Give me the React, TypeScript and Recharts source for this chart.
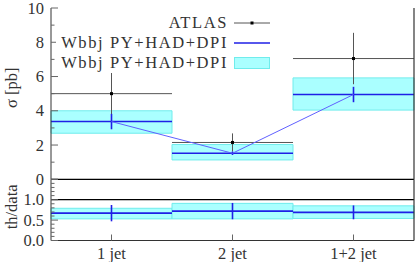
import React from "react";
import {
  ComposedChart,
  XAxis,
  YAxis,
  Line,
  Scatter,
  ErrorBar,
  ReferenceLine,
  ReferenceArea,
  Legend,
} from "recharts";

// ---------- data ----------
const categories = ["1 jet", "2 jet", "1+2 jet"];
const atlasValues = [5.0, 2.15, 7.05];
const atlasErrors = [1.3, 0.53, 1.5];
const theoryValues = [3.37, 1.52, 4.95];
const theoryErrors = [0.45, 0.1, 0.45];
const bandLow = [2.69, 1.13, 4.04];
const bandHigh = [4.0, 2.03, 5.92];
const ratioValues = [0.67, 0.72, 0.69];
const ratioErrors = [0.2, 0.2, 0.17];
const ratioBandLow = [0.53, 0.53, 0.54];
const ratioBandHigh = [0.79, 0.91, 0.85];
const sigmaMajorTicks = [0, 2, 4, 6, 8, 10];
const sigmaMinorTicks = [1, 3, 5, 7, 9];
const ratioMajorTicks = [0, 0.5, 1.0, 1.5];
const ratioMinorTicks = [0.1, 0.2, 0.3, 0.4, 0.6, 0.7, 0.8, 0.9, 1.1, 1.2, 1.3, 1.4];
const ratioTickLabels = ["0.0", "0.5", "1.0", ""];
const legendLabels = ["ATLAS", "Wbbj PY+HAD+DPI", "Wbbj PY+HAD+DPI"];

// ---------- derived tables ----------
const centers = categories.map((_, i) => i + 0.5);
const topRows = categories.map((c, i) => ({
  x: i + 0.5,
  name: c,
  atlas: atlasValues[i],
  atlasErr: atlasErrors[i],
  theory: theoryValues[i],
  theoryErr: theoryErrors[i],
}));
const bottomRows = categories.map((c, i) => ({
  x: i + 0.5,
  name: c,
  ratio: ratioValues[i],
  ratioErr: ratioErrors[i],
}));
const sigmaTicks = [...sigmaMajorTicks, ...sigmaMinorTicks].sort((a, b) => a - b);
const ratioTicks = [...ratioMajorTicks, ...ratioMinorTicks].sort((a, b) => a - b);

// ---------- styles ----------
const FONT = "Liberation Serif";
const FS = 16.5;
const TEXT = "#333";
const TICK = "#666";
const FRAME = "#333";
const BLUE = "#1f1fe6";
const THIN_BLUE = "#6060ff";
const GRAY = "#555";
const BAND_FILL = "#aaffff";
const BAND_EDGE = "#70ecec";

const isIn = (arr: number[], v: number) => arr.some((m) => Math.abs(m - v) < 1e-6);

const makeLeftTick = (majors: number[], fmt: (v: number) => string) => (props: any) => {
  const { x, y, payload } = props;
  const v = payload.value;
  const major = isIn(majors, v);
  return (
    <g>
      <line x1={x} x2={x + (major ? 7 : 3.5)} y1={y} y2={y} stroke={TICK} strokeWidth={1} />
      {major && (
        <text x={x - 7} y={y} textAnchor="end" dominantBaseline="central" style={{ fontFamily: FONT }} fontSize={FS} fill={TEXT}>
          {fmt(v)}
        </text>
      )}
    </g>
  );
};

const makeRightTick = (majors: number[]) => (props: any) => {
  const { x, y, payload } = props;
  const major = isIn(majors, payload.value);
  return <line x1={x - (major ? 7 : 3.5)} x2={x} y1={y} y2={y} stroke={TICK} strokeWidth={1} />;
};

const TopDownTick = (props: any) => {
  const { x, y } = props;
  return <line x1={x} x2={x} y1={y} y2={y + 5} stroke={TICK} strokeWidth={1} />;
};

const BottomLabelTick = (props: any) => {
  const { x, y, index } = props;
  return (
    <g>
      <line x1={x} x2={x} y1={y} y2={y - 6} stroke={TICK} strokeWidth={1} />
      <text x={x} y={y + 13} textAnchor="middle" dominantBaseline="central" style={{ fontFamily: FONT }} fontSize={FS} fill={TEXT}>
        {categories[index]}
      </text>
    </g>
  );
};

const renderYLabel = (text: string, shift: number) => (p: any) => {
  const vb = p.viewBox || { x: 0, y: 0, width: 0, height: 0 };
  const cx = 17;
  const cy = vb.y + vb.height / 2 + shift;
  return (
    <text
      transform={`translate(${cx},${cy}) rotate(-90)`}
      textAnchor="middle"
      style={{ fontFamily: FONT }}
      fontSize={FS}
      fill={TEXT}
    >
      {text}
    </text>
  );
};

const DataPoint = (props: any) => {
  const { cx, cy } = props;
  if (cx == null || cy == null) return <g />;
  return <rect x={cx - 1.5} y={cy - 1.5} width={3} height={3} fill="#000" />;
};

const NoShape = () => <g />;

const LegendContent = () => {
  const rowStyle: React.CSSProperties = {
    display: "flex",
    justifyContent: "flex-end",
    alignItems: "center",
    height: 20,
  };
  const textStyle: React.CSSProperties = {
    fontFamily: FONT,
    fontSize: FS,
    color: TEXT,
    letterSpacing: 1.6,
    lineHeight: "20px",
    whiteSpace: "nowrap",
  };
  return (
    <div style={{ background: "#fff", width: 220 }}>
      <div style={rowStyle}>
        <span style={textStyle}>{legendLabels[0]}</span>
        <svg width={36} height={20} style={{ marginLeft: 6, marginRight: 6 }}>
          <line x1={0} x2={36} y1={10} y2={10} stroke={GRAY} strokeWidth={1} />
          <rect x={16.5} y={8.5} width={3} height={3} fill="#000" />
        </svg>
      </div>
      <div style={rowStyle}>
        <span style={textStyle}>{legendLabels[1]}</span>
        <svg width={36} height={20} style={{ marginLeft: 6, marginRight: 6 }}>
          <line x1={0} x2={36} y1={10} y2={10} stroke={BLUE} strokeWidth={1.5} />
        </svg>
      </div>
      <div style={rowStyle}>
        <span style={textStyle}>{legendLabels[2]}</span>
        <svg width={36} height={20} style={{ marginLeft: 6, marginRight: 6 }}>
          <rect x={0.5} y={4.5} width={35} height={11} fill={BAND_FILL} stroke={BAND_EDGE} strokeWidth={1} />
        </svg>
      </div>
    </div>
  );
};

export default function App() {
  return (
    <div style={{ position: "absolute", left: 0, top: 0, width: 415, height: 262, background: "#fff", fontFamily: FONT }}>
      {/* upper panel */}
      <div style={{ position: "absolute", left: 0, top: 0 }}>
        <ComposedChart width={415} height={190} data={topRows} margin={{ top: 8, right: 0, bottom: 0, left: 0 }}>
          <XAxis
            dataKey="x"
            type="number"
            domain={[0, 3]}
            ticks={centers}
            height={10.7}
            tick={false}
            tickLine={false}
            axisLine={{ stroke: "#000", strokeWidth: 1.3 }}
          />
          <XAxis
            xAxisId="top"
            dataKey="x"
            type="number"
            domain={[0, 3]}
            orientation="top"
            height={0}
            tick={false}
            tickLine={false}
            axisLine={{ stroke: FRAME, strokeWidth: 1 }}
          />
          <YAxis
            type="number"
            domain={[0, 10]}
            ticks={sigmaTicks}
            interval={0}
            width={51}
            tickSize={0}
            tickMargin={0}
            tickLine={false}
            tick={makeLeftTick(sigmaMajorTicks, (v) => String(v))}
            axisLine={{ stroke: FRAME, strokeWidth: 1 }}
            label={{ content: renderYLabel("σ [pb]", -6) }}
          />
          <YAxis
            yAxisId="r"
            orientation="right"
            type="number"
            domain={[0, 10]}
            ticks={sigmaTicks}
            interval={0}
            width={1}
            tickSize={0}
            tickMargin={0}
            tickLine={false}
            tick={makeRightTick(sigmaMajorTicks)}
            axisLine={{ stroke: FRAME, strokeWidth: 1.2 }}
          />
          {categories.map((c, i) => (
            <ReferenceArea
              key={"band" + c}
              x1={i}
              x2={i + 1}
              y1={bandLow[i]}
              y2={bandHigh[i]}
              fill={BAND_FILL}
              fillOpacity={1}
              stroke={BAND_EDGE}
              strokeWidth={1}
            />
          ))}
          {categories.map((c, i) => (
            <ReferenceLine
              key={"atl" + c}
              segment={[
                { x: i, y: atlasValues[i] },
                { x: i + 1, y: atlasValues[i] },
              ]}
              stroke={GRAY}
              strokeWidth={1}
            />
          ))}
          {categories.map((c, i) => (
            <ReferenceLine
              key={"th" + c}
              segment={[
                { x: i, y: theoryValues[i] },
                { x: i + 1, y: theoryValues[i] },
              ]}
              stroke={BLUE}
              strokeWidth={1.6}
            />
          ))}
          <Scatter dataKey="atlas" shape={DataPoint} isAnimationActive={false}>
            <ErrorBar dataKey="atlasErr" direction="y" width={0} stroke={GRAY} strokeWidth={1} />
          </Scatter>
          <Line
            dataKey="theory"
            type="linear"
            stroke={THIN_BLUE}
            strokeWidth={1}
            dot={false}
            isAnimationActive={false}
          >
            <ErrorBar dataKey="theoryErr" direction="y" width={0} stroke={BLUE} strokeWidth={1.6} />
          </Line>
          <Legend
            layout="horizontal"
            verticalAlign="middle"
            align="center"
            content={LegendContent}
            wrapperStyle={{ position: "absolute", left: 56, top: 12.7, width: 220 }}
          />
        </ComposedChart>
      </div>

      {/* lower panel */}
      <div style={{ position: "absolute", left: 0, top: 0 }}>
        <ComposedChart width={415} height={262} data={bottomRows} margin={{ top: 179.3, right: 0, bottom: 0, left: 0 }}>
          <XAxis
            dataKey="x"
            type="number"
            domain={[0, 3]}
            ticks={centers}
            interval={0}
            height={21.5}
            tickSize={0}
            tickMargin={0}
            tickLine={false}
            tick={BottomLabelTick}
            axisLine={{ stroke: FRAME, strokeWidth: 1 }}
          />
          <XAxis
            xAxisId="top"
            dataKey="x"
            type="number"
            domain={[0, 3]}
            ticks={centers}
            interval={0}
            orientation="top"
            height={0}
            tickSize={0}
            tickMargin={0}
            tickLine={false}
            tick={TopDownTick}
            axisLine={false}
          />
          <YAxis
            type="number"
            domain={[0, 1.5]}
            ticks={ratioTicks}
            interval={0}
            width={51}
            tickSize={0}
            tickMargin={0}
            tickLine={false}
            tick={makeLeftTick(ratioMajorTicks, (v) => ratioTickLabels[ratioMajorTicks.findIndex((m) => Math.abs(m - v) < 1e-6)])}
            axisLine={{ stroke: FRAME, strokeWidth: 1 }}
            label={{ content: renderYLabel("th/data", -3) }}
          />
          <YAxis
            yAxisId="r"
            orientation="right"
            type="number"
            domain={[0, 1.5]}
            ticks={ratioTicks}
            interval={0}
            width={1}
            tickSize={0}
            tickMargin={0}
            tickLine={false}
            tick={makeRightTick(ratioMajorTicks)}
            axisLine={{ stroke: FRAME, strokeWidth: 1.2 }}
          />
          {categories.map((c, i) => (
            <ReferenceArea
              key={"rband" + c}
              x1={i}
              x2={i + 1}
              y1={ratioBandLow[i]}
              y2={ratioBandHigh[i]}
              fill={BAND_FILL}
              fillOpacity={1}
              stroke={BAND_EDGE}
              strokeWidth={1}
            />
          ))}
          <ReferenceLine y={1} stroke="#000" strokeWidth={1.3} />
          {categories.map((c, i) => (
            <ReferenceLine
              key={"r" + c}
              segment={[
                { x: i, y: ratioValues[i] },
                { x: i + 1, y: ratioValues[i] },
              ]}
              stroke={BLUE}
              strokeWidth={1.6}
            />
          ))}
          <Scatter dataKey="ratio" shape={NoShape} isAnimationActive={false}>
            <ErrorBar dataKey="ratioErr" direction="y" width={0} stroke={BLUE} strokeWidth={1.6} />
          </Scatter>
        </ComposedChart>
      </div>
    </div>
  );
}
